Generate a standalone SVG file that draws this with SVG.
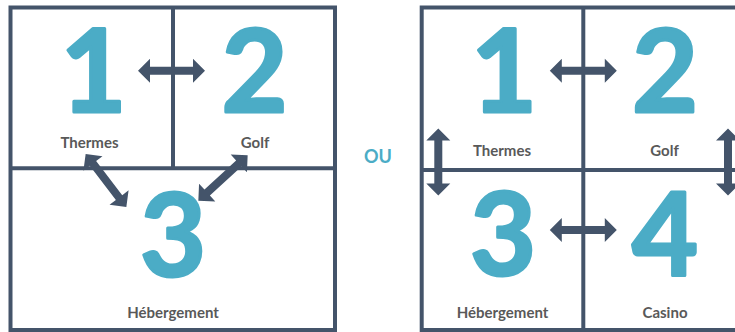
<svg xmlns="http://www.w3.org/2000/svg" width="735" height="332" viewBox="0 0 735 332">
  <style>
    .grid { fill: none; stroke: #44546a; stroke-width: 4; }
    .num { font-family: Lato, "Open Sans", "Liberation Sans", sans-serif; font-weight: 700; font-size: 114px; fill: #4bacc6; stroke: #4bacc6; stroke-width: 3; stroke-linejoin: round; text-anchor: middle; }
    .lbl { font-family: Lato, "Open Sans", "Liberation Sans", sans-serif; font-weight: 700; font-size: 15px; fill: #595959; text-anchor: middle; }
    .ou { font-family: Lato, "Open Sans", "Liberation Sans", sans-serif; font-weight: 700; font-size: 18px; fill: #4bacc6; text-anchor: middle; }
    .arr { fill: #44546a; }
  </style>
  <defs>
    <path id="dbl" d="M-33.5,0 L-21.5,-12 L-21.5,-4 L21.5,-4 L21.5,-12 L33.5,0 L21.5,12 L21.5,4 L-21.5,4 L-21.5,12 Z"/>
  </defs>
  <rect width="735" height="332" fill="#ffffff"/>

  <!-- grid lines -->
  <g id="grid-left">
    <rect class="grid" x="10.5" y="7.5" width="324.5" height="322.5"/>
    <line class="grid" x1="173" y1="7.5" x2="173" y2="168.3"/>
    <line class="grid" x1="10.5" y1="168.3" x2="335" y2="168.3"/>
  </g>
  <g id="grid-right">
    <rect class="grid" x="421.7" y="7.5" width="330" height="322.5"/>
    <line class="grid" x1="583.3" y1="7.5" x2="583.3" y2="330"/>
    <line class="grid" x1="421.7" y1="170" x2="751.7" y2="170"/>
  </g>

  <!-- left option -->
  <g id="left-thermes">
    <text class="num" x="93.5" y="112">1</text>
    <text class="lbl" x="89.5" y="148">Thermes</text>
  </g>
  <g id="left-golf">
    <text class="num" x="254.5" y="112">2</text>
    <text class="lbl" x="255" y="148">Golf</text>
  </g>
  <g id="left-hebergement">
    <text class="num" x="173" y="276">3</text>
    <text class="lbl" x="173" y="318">Hébergement</text>
  </g>

  <text id="ou" class="ou" x="378" y="163">OU</text>

  <!-- right option -->
  <g id="right-thermes">
    <text class="num" x="504" y="112">1</text>
    <text class="lbl" x="502" y="156">Thermes</text>
  </g>
  <g id="right-golf">
    <text class="num" x="665" y="112">2</text>
    <text class="lbl" x="664.5" y="156">Golf</text>
  </g>
  <g id="right-hebergement">
    <text class="num" x="503" y="275">3</text>
    <text class="lbl" x="502.5" y="318">Hébergement</text>
  </g>
  <g id="right-casino">
    <text class="num" x="665" y="275">4</text>
    <text class="lbl" x="665" y="318">Casino</text>
  </g>

  <!-- connectors -->
  <g id="connectors" class="arr">
    <use href="#dbl" transform="translate(171.5,70.7)"/>
    <use href="#dbl" transform="translate(106,180.5) rotate(52.6)"/>
    <use href="#dbl" transform="translate(223,178) rotate(-42.6)"/>
    <use href="#dbl" transform="translate(583.3,70.7)"/>
    <use href="#dbl" transform="translate(583.3,230)"/>
    <use href="#dbl" transform="translate(438.3,162) rotate(90)"/>
    <use href="#dbl" transform="translate(728,162) rotate(90)"/>
  </g>
</svg>
